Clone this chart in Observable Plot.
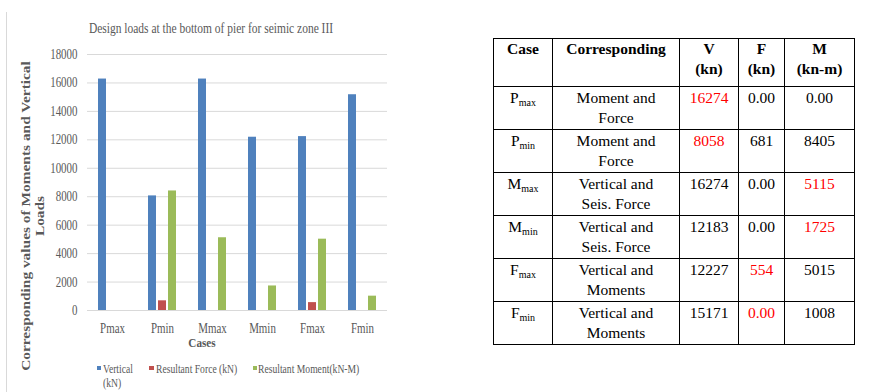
<!DOCTYPE html>
<html><head><meta charset="utf-8">
<script src="https://cdn.jsdelivr.net/npm/d3@7"></script>
<script src="https://cdn.jsdelivr.net/npm/@observablehq/plot@0.6"></script>
<style>
html,body{margin:0;padding:0;background:#fff;}
#root{position:relative;width:877px;height:392px;overflow:hidden;font-family:'Liberation Serif','Times New Roman',serif;}
.abs{position:absolute;white-space:nowrap;font-family:'Liberation Serif','Times New Roman',serif;}
#chart{position:absolute;left:0;top:0;}
.leftline{position:absolute;left:6px;top:12px;width:1px;height:380px;background:#D9D9D9;}
.title{font-size:14px;line-height:15.5px;color:#595959;transform:translateX(-50%) scaleX(0.82);}
.ytitle{font-size:15.4px;line-height:16.5px;font-weight:bold;color:#595959;text-align:center;transform:translate(-50%,-50%) rotate(-90deg) scaleY(0.8);}
.xtitle{font-size:13px;line-height:14.4px;font-weight:bold;color:#595959;transform:translateX(-50%) scaleX(0.86);}
.leg{font-size:12.5px;line-height:14px;color:#595959;transform-origin:0 0;transform:scaleX(0.77);}
.sw{position:absolute;width:4.5px;height:4.5px;}
table{position:absolute;left:493px;top:37.5px;border-collapse:collapse;table-layout:fixed;width:361px;font-family:'Liberation Serif','Times New Roman',serif;font-size:15.5px;line-height:20.5px;color:#000;}
td,th{font-family:'Liberation Serif','Times New Roman',serif;border:1px solid #000;padding:1px 0 0 0;text-align:center;vertical-align:top;overflow:hidden;}
th{font-weight:bold;padding-top:0;}
thead tr{height:48px;}
tbody tr{height:42.7px;}
sub{font-size:10px;vertical-align:-3px;line-height:0;}
.red{color:#FF0000;}
</style></head><body><div id="root"></div>
<script>
// ---- chart data ----
const cases = ["Pmax", "Pmin", "Mmax", "Mmin", "Fmax", "Fmin"];
const series = ["Vertical (kN)", "Resultant Force (kN)", "Resultant Moment(kN-M)"];
const vertical = [16274, 8058, 16274, 12183, 12227, 15171];
const force = [0, 681, 0, 0, 554, 0];
const moment = [0, 8405, 5115, 1725, 5015, 1008];
const yTicks = [0, 2000, 4000, 6000, 8000, 10000, 12000, 14000, 16000, 18000];
const colors = ["#4F81BD", "#C0504D", "#9BBB59"];
const chartTitle = "Design loads at the bottom of pier for seimic zone III";
const yTitle = ["Corresponding values of Moments and Vertical", "Loads"];
const xTitle = "Cases";

// ---- table data ----
const headers = [["Case"], ["Corresponding"], ["V", "(kn)"], ["F", "(kn)"], ["M", "(kn-m)"]];
const caseMain = ["P", "P", "M", "M", "F", "F"];
const caseSub = ["max", "min", "max", "min", "max", "min"];
const corresponding = [["Moment and", "Force"], ["Moment and", "Force"], ["Vertical and", "Seis. Force"], ["Vertical and", "Seis. Force"], ["Vertical and", "Moments"], ["Vertical and", "Moments"]];
const tableV = ["16274", "8058", "16274", "12183", "12227", "15171"];
const tableF = ["0.00", "681", "0.00", "0.00", "554", "0.00"];
const tableM = ["0.00", "8405", "5115", "1725", "5015", "1008"];
const redV = [true, true, false, false, false, false];
const redF = [false, false, false, false, true, true];
const redM = [false, false, true, true, false, false];

const root = document.getElementById("root");

// build long data
const valuesBySeries = [vertical, force, moment];
const data = [];
cases.forEach((c, i) => series.forEach((s, j) => data.push({case: c, series: s, value: valuesBySeries[j][i]})));

const chart = Plot.plot({
  width: 440, height: 340,
  marginTop: 54, marginBottom: 30, marginLeft: 86, marginRight: 53,
  style: {fontFamily: "'Liberation Serif','Times New Roman',serif", fontSize: "14px", color: "#595959", background: "transparent"},
  fx: {domain: cases, padding: 0, label: null},
  x: {domain: series, paddingInner: 0.18, paddingOuter: 0.87, axis: null},
  y: {domain: [0, 18000], label: null},
  color: {domain: series, range: colors},
  marks: [
    Plot.gridY(yTicks, {stroke: "#D9D9D9", strokeOpacity: 1}),
    Plot.axisY(yTicks, {tickSize: 0, tickPadding: 10, label: null, tickFormat: "d", fontSize: 14}),
    Plot.axisFx({anchor: "bottom", tickSize: 0, tickPadding: 12.8, label: null, fontSize: 14}),
    Plot.barY(data, {fx: "case", x: "series", y: "value", fill: "series"})
  ]
});
chart.id = "chart";
root.appendChild(chart);

// horizontally condense the axis labels like the reference
chart.querySelectorAll('g[aria-label$="tick label"] text').forEach(t => {
  const L = t.getComputedTextLength();
  t.setAttribute("textLength", (L * 0.78).toFixed(2));
  t.setAttribute("lengthAdjust", "spacingAndGlyphs");
});

function addDiv(cls, html, left, top) {
  const d = document.createElement("div");
  d.className = "abs " + cls;
  d.innerHTML = html;
  d.style.left = left + "px";
  d.style.top = top + "px";
  root.appendChild(d);
  return d;
}

const ll = document.createElement("div"); ll.className = "leftline"; root.appendChild(ll);
addDiv("title", chartTitle, 210.5, 20.5);
addDiv("ytitle", yTitle.join("<br>"), 33.3, 215.5);
addDiv("xtitle", xTitle, 201.5, 336);

// legend
const legSw = [[96.5, 365.5], [149, 365.5], [252.5, 365.5]];
const legTx = [103, 156, 258];
const legText = ["Vertical<br>(kN)", series[1], series[2]];
series.forEach((s, i) => {
  const sw = document.createElement("div");
  sw.className = "sw";
  sw.style.left = legSw[i][0] + "px";
  sw.style.top = legSw[i][1] + "px";
  sw.style.background = colors[i];
  root.appendChild(sw);
  addDiv("leg", legText[i], legTx[i], 362.1);
});

// table
const table = document.createElement("table");
const colW = [59, 127, 59, 46, 70];
const cg = document.createElement("colgroup");
colW.forEach(w => { const c = document.createElement("col"); c.style.width = w + "px"; cg.appendChild(c); });
table.appendChild(cg);
const thead = document.createElement("thead");
const htr = document.createElement("tr");
headers.forEach(h => { const th = document.createElement("th"); th.innerHTML = h.join("<br>"); htr.appendChild(th); });
thead.appendChild(htr);
table.appendChild(thead);
const tbody = document.createElement("tbody");
cases.forEach((c, i) => {
  const tr = document.createElement("tr");
  const cells = [
    caseMain[i] + "<sub>" + caseSub[i] + "</sub>",
    corresponding[i].join("<br>"),
    '<span class="' + (redV[i] ? "red" : "") + '">' + tableV[i] + "</span>",
    '<span class="' + (redF[i] ? "red" : "") + '">' + tableF[i] + "</span>",
    '<span class="' + (redM[i] ? "red" : "") + '">' + tableM[i] + "</span>"
  ];
  cells.forEach(h => { const td = document.createElement("td"); td.innerHTML = h; tr.appendChild(td); });
  tbody.appendChild(tr);
});
table.appendChild(tbody);
root.appendChild(table);
</script></body></html>
